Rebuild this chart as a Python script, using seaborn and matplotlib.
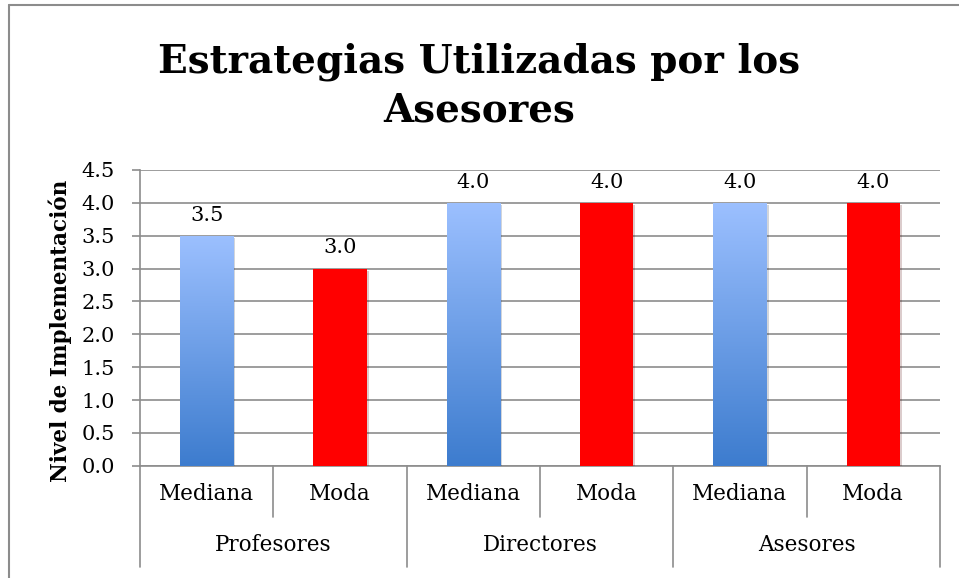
import seaborn as sns
import pandas as pd
import matplotlib.pyplot as plt
import numpy as np
from matplotlib.colors import LinearSegmentedColormap
from matplotlib.lines import Line2D
import matplotlib.patheffects as pe

# -----------------------------------------------------------------------------
# Data
# -----------------------------------------------------------------------------

groups = ["Profesores", "Directores", "Asesores"]
stats = ["Mediana", "Moda"]
mediana = [3.5, 4.0, 4.0]
moda = [3.0, 4.0, 4.0]

rows = []
for g, me, mo in zip(groups, mediana, moda):
    rows.append({"grupo": g, "stat": "Mediana", "valor": me})
    rows.append({"grupo": g, "stat": "Moda", "valor": mo})
df = pd.DataFrame(rows)
df["pos"] = df["grupo"] + "|" + df["stat"]

# -----------------------------------------------------------------------------
# Plot
# -----------------------------------------------------------------------------

sns.set_style("white")
plt.rcParams["font.family"] = ["DejaVu Serif"]
plt.rcParams["text.color"] = "black"
plt.rcParams["axes.labelcolor"] = "black"
plt.rcParams["ytick.color"] = "black"

fig = plt.figure(figsize=(9.59, 5.78), dpi=100)
ax = fig.add_axes([0.146, 0.194, 0.834, 0.512])

sns.barplot(
    data=df, x="pos", y="valor", hue="stat", dodge=False,
    palette={"Mediana": "#6fa0ea", "Moda": "#ff0000"}, saturation=1,
    width=0.4, legend=False, ax=ax, zorder=3, errorbar=None, linewidth=0,
)

# gradient fill for the Mediana bars
blue = LinearSegmentedColormap.from_list("blue", ["#3d7cce", "#9cc0ff"])
grad = np.linspace(0, 1, 256).reshape(-1, 1)
for patch in ax.patches:
    patch.set_path_effects([pe.SimplePatchShadow(offset=(1.5, -1.5), alpha=0.2), pe.Normal()])
    if patch.get_facecolor()[2] > 0.5:
        x0, y0 = patch.get_x(), patch.get_y()
        w, h = patch.get_width(), patch.get_height()
        im = ax.imshow(grad, cmap=blue, origin="lower", aspect="auto",
                       extent=[x0, x0 + w, y0, y0 + h], zorder=3.5)
        im.set_clip_path(patch)

for c in ax.containers:
    ax.bar_label(c, fmt="%.1f", padding=8, fontsize=15, color="black")

ax.set_ylim(0, 4.5)
ax.set_xlim(-0.5, 5.5)
ax.set_yticks(np.arange(0, 4.51, 0.5))
ax.set_yticklabels([f"{v:.1f}" for v in np.arange(0, 4.51, 0.5)], fontsize=15)
ax.yaxis.grid(True, color="#8c8c8c", linewidth=1.2, zorder=0)
ax.tick_params(axis="y", left=True, length=6, color="#8c8c8c", width=1.2, pad=12,
               labelcolor="black")
ax.set_xticks([])
ax.set_xlabel("")
ax.set_ylabel("Nivel de Implementación", fontsize=15.5, fontweight="bold")
ax.yaxis.set_label_coords(-0.085, 0.455)

for s in ["top", "right"]:
    ax.spines[s].set_visible(False)
for s in ["left", "bottom"]:
    ax.spines[s].set_color("#8c8c8c")
    ax.spines[s].set_linewidth(1.2)

# two-level category axis
trans = ax.get_xaxis_transform()
tier1, tier2 = -0.172, -0.341
for i, g in enumerate(groups):
    for j, s in enumerate(stats):
        ax.text(2 * i + j, (0 + tier1) / 2 - 0.01, s, transform=trans,
                ha="center", va="center", fontsize=15.5)
    ax.text(2 * i + 0.5, (tier1 + tier2) / 2 - 0.01, g, transform=trans,
            ha="center", va="center", fontsize=15.5)
for k in range(7):
    xpos = k - 0.5
    bottom = tier2 if k % 2 == 0 else tier1
    ax.add_line(Line2D([xpos, xpos], [0, bottom], transform=trans,
                       color="#8c8c8c", linewidth=1.2, clip_on=False))

fig.text(0.5, 0.852, "Estrategias Utilizadas por los\nAsesores",
         ha="center", va="center", fontsize=28, fontweight="bold",
         linespacing=1.35, color="black")

# outer frame
fig.add_artist(Line2D([0.009, 0.009], [0, 0.991], transform=fig.transFigure,
                      color="#8c8c8c", linewidth=1.5))
fig.add_artist(Line2D([0.009, 1.0], [0.991, 0.991], transform=fig.transFigure,
                      color="#8c8c8c", linewidth=1.5))

fig.savefig("out.png", dpi=100)
